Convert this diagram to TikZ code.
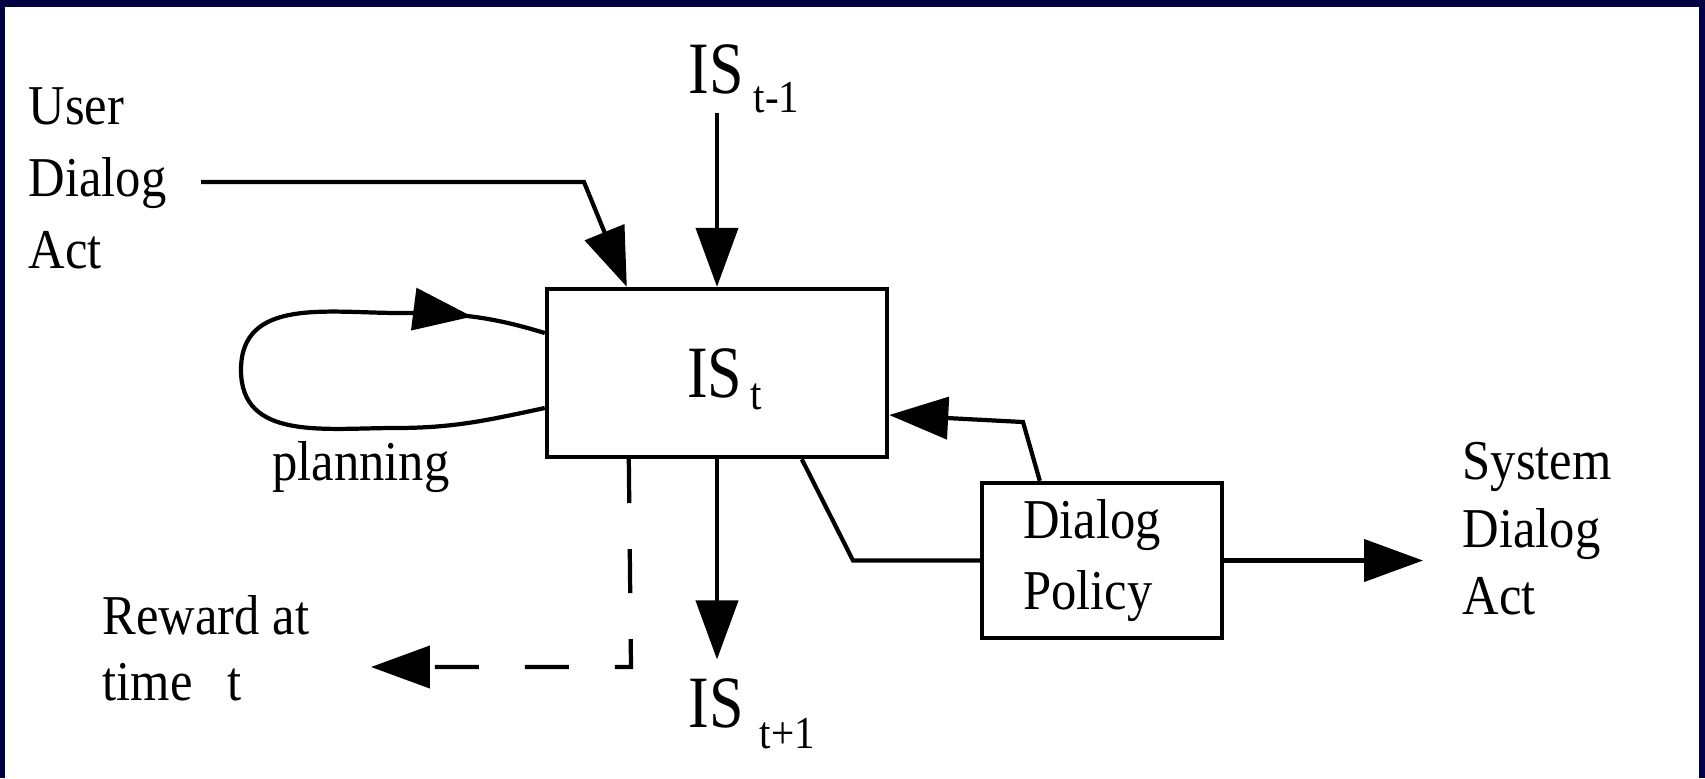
\documentclass[tikz,border=0pt]{standalone}
\usepackage{fontspec}
\setmainfont{Liberation Serif}
\newfontfamily\lblfont[FakeStretch=0.9]{Liberation Serif}
\newfontfamily\isfont[FakeStretch=0.84]{Liberation Serif}
\usetikzlibrary{arrows.meta,decorations.markings}
% IS con subindice: separacion, bajada, texto
\newcommand{\isx}[3]{{\isfont\fontsize{21pt}{24pt}\selectfont IS}\kern#1cm\raisebox{-#2cm}{\lblfont\fontsize{13pt}{14pt}\selectfont #3}}

\begin{document}
\begin{tikzpicture}[
    lbl/.style={font=\lblfont\fontsize{16pt}{18.7pt}\selectfont, inner sep=0pt, align=left},
    caja/.style={draw, line width=1.25pt, inner sep=0pt},
    punta/.style={-{Triangle[length=0.59cm,width=0.42cm]}},
    flecha/.style={line width=1.2pt, punta},
    linea/.style={line width=1.2pt}]
        %colores
        \definecolor{marino}{RGB}{4,0,68}
        % fondo y marco
        \fill[marino] (0,0) rectangle (17.05,-7.78);
        \fill[white] (0.05,-0.07) rectangle (16.99,-7.78);
        \useasboundingbox (0,0) rectangle (17.05,-7.78);

        % cajas
        \node[caja, minimum width=3.4cm, minimum height=1.68cm, text depth=0pt] (is) at (7.17,-3.73) {\hspace*{0.15cm}\isx{0.08}{0.12}{t}};
        \node[lbl, caja, minimum height=1.55cm, text width=1.58cm, inner xsep=0.41cm] (pol) at (11.02,-5.605) {Dialog\\[1.5pt]Policy};

        % textos
        \node[lbl, font=\lblfont\fontsize{16pt}{20.5pt}\selectfont, anchor=north west] (usr) at (0.28,-0.87) {User\\Dialog\\Act};
        \node[lbl, anchor=north west] (rew) at (1.02,-5.95) {Reward at\\time~~\,t};
        \node[lbl, font=\lblfont\fontsize{16pt}{19.2pt}\selectfont, anchor=north west] (sys) at (14.62,-4.42) {System\\Dialog\\Act};
        \node[lbl, anchor=base] (plan) at (3.61,-4.80) {planning};
        \node[inner sep=0pt, anchor=base west] (prev) at (6.88,-0.93) {\isx{0.10}{0.19}{t-1}};
        \node[inner sep=0pt, anchor=base west] (next) at (6.88,-7.27) {\isx{0.16}{0.21}{t+1}};

        % puntos de quiebre
        \coordinate (ucodo) at (5.84,-1.82);
        \coordinate (rcodo) at (6.31,-6.67);
        \coordinate (fcodo) at (10.23,-4.22);
        \coordinate (pcodo) at (8.53,-5.605);
        \coordinate (salida) at (14.23,-5.605);
        \coordinate (lbajo) at (3.95,-4.28);
        \coordinate (lizq) at (2.41,-3.70);
        \coordinate (larriba) at (4.00,-3.13);

        % flechas
        \draw[flecha] (prev.south -| is.north) -- (is.north);
        \draw[flecha] (is.south) -- ([yshift=0.18cm]next.north -| is.south);
        \draw[flecha] ([xshift=0.34cm]usr.east |- ucodo) -- (ucodo) -- ([xshift=0.82cm]is.north west);
        \draw[flecha, dash pattern=on 0.44cm off 0.46cm] ([xshift=0.84cm]is.south west) -- (rcodo) -- ([xshift=0.61cm]rew.east |- rcodo);
        \draw[flecha] ([xshift=0.60cm]pol.north west) -- (fcodo) -- ([yshift=-0.42cm]is.east);
        \draw[linea] ([xshift=2.57cm]is.south west) -- (pcodo) -- (pol.west);
        \draw[flecha] (pol.east) -- (salida);

        % lazo de planificacion
        \draw[linea, postaction={decorate}, decoration={markings, mark=at position 0.89 with {\arrow{Triangle[length=0.59cm,width=0.42cm]}}}]
            ([yshift=-0.35cm]is.west) to[out=192,in=0] (lbajo) to[out=180,in=270,looseness=1.1] (lizq)
            to[out=90,in=180,looseness=1.1] (larriba) to[out=0,in=163] ([yshift=0.40cm]is.west);
    \end{tikzpicture}
\end{document}
